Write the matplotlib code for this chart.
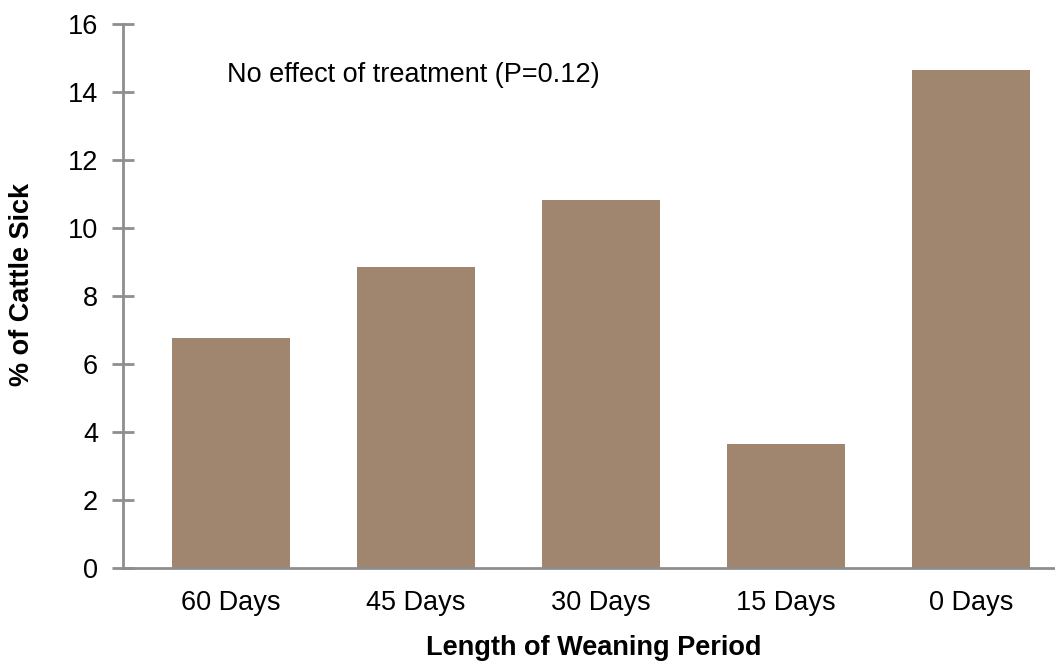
import matplotlib

matplotlib.use("Agg")
import matplotlib.pyplot as plt

plt.rcParams["font.family"] = ["Liberation Sans", "DejaVu Sans"]

categories = ["60 Days", "45 Days", "30 Days", "15 Days", "0 Days"]
pct_sick = [6.74, 8.85, 10.82, 3.65, 14.62]
y_ticks = [0, 2, 4, 6, 8, 10, 12, 14, 16]
note = "No effect of treatment (P=0.12)"

bar_color = "#a0866f"
axis_grey = "#8e8e8e"

fig = plt.figure(figsize=(10.55, 6.64), dpi=100)
ax = fig.add_axes([0.1166, 0.145, 0.8834, 0.8196])

x = list(range(len(categories)))
ax.bar(x, pct_sick, width=0.64, color=bar_color, zorder=2)

ax.set_xlim(-0.584, 4.454)
ax.set_ylim(0, 16)
ax.set_yticks(y_ticks)
ax.set_xticks(x)
ax.set_xticklabels(categories)

for side in ("top", "right"):
    ax.spines[side].set_visible(False)
for side in ("left", "bottom"):
    ax.spines[side].set_color(axis_grey)
    ax.spines[side].set_linewidth(2)
ax.spines["bottom"].set_zorder(3)

ax.tick_params(axis="y", direction="inout", length=16, width=2, color=axis_grey,
               labelsize=19.5, pad=10)
ax.tick_params(axis="x", length=0, labelsize=19.5, pad=16)

ax.text(-0.02, 14.5, note, fontsize=19.5, ha="left", va="center")

fig.text(0.021, 0.571, "% of Cattle Sick", rotation=90, fontsize=19.5,
         fontweight="bold", ha="center", va="center")
fig.text(0.563, 0.024, "Length of Weaning Period", fontsize=19.5,
         fontweight="bold", ha="center", va="center")

fig.savefig("out.png", dpi=100)
